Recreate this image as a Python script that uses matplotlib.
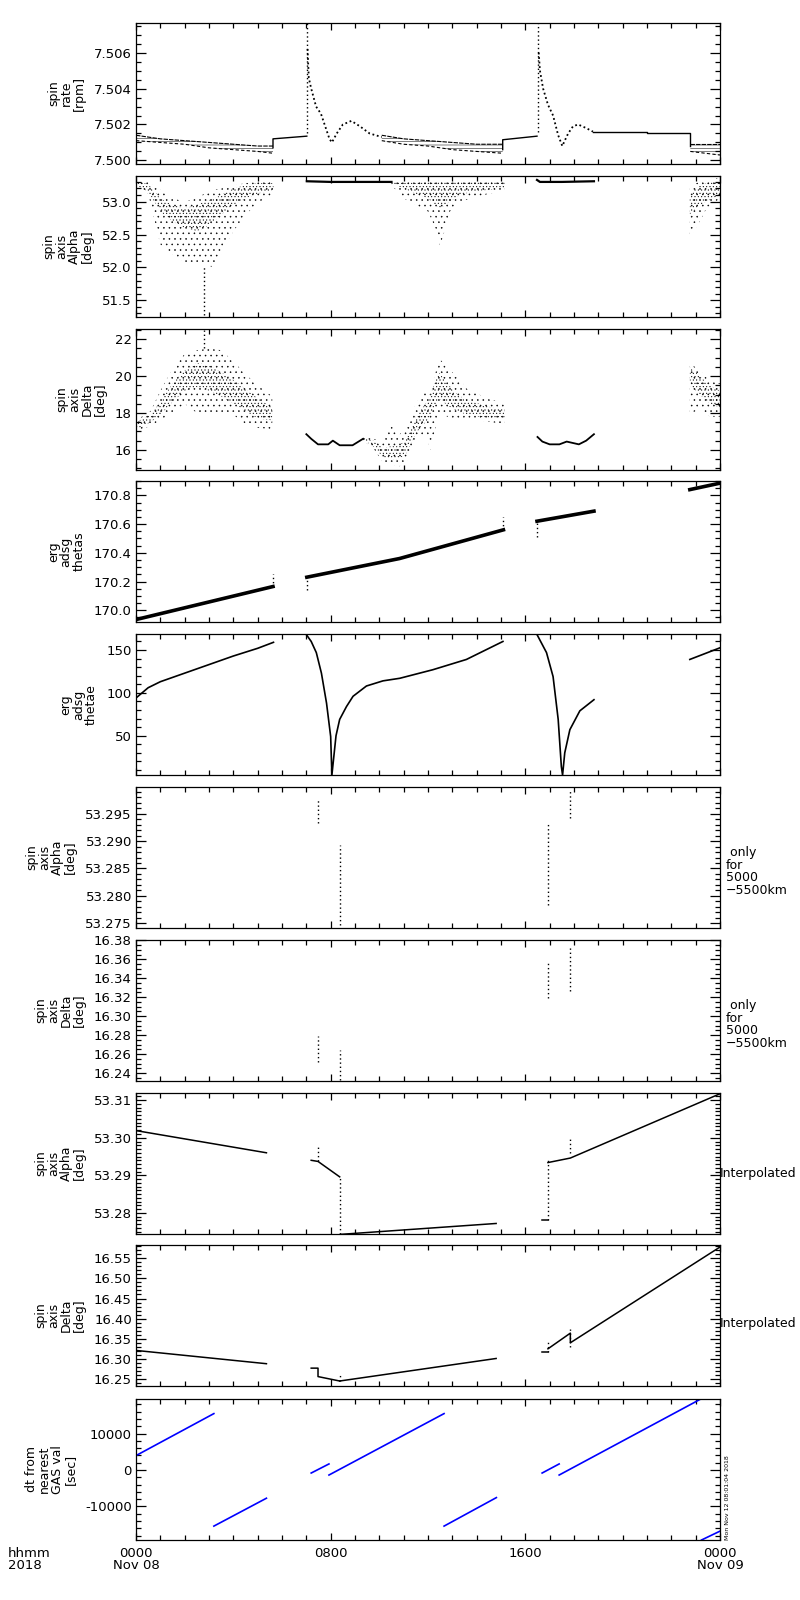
import matplotlib
matplotlib.use("Agg")
import matplotlib.pyplot as plt
from matplotlib.ticker import MultipleLocator, FixedLocator, FormatStrFormatter

plt.rcParams['font.family'] = ['DejaVu Sans']
plt.rcParams['hatch.linewidth'] = 0.35
plt.rcParams['axes.linewidth'] = 0.9

# time axis: hours since 2018-11-08 00:00

# ---- spin rate [rpm]
rate_b1_t = [0, 1, 2, 3, 4, 5, 5.63]
rate_b1_lo = [7.5011, 7.5010, 7.5009, 7.5007, 7.5006, 7.5005, 7.5004]
rate_b1_hi = [7.5014, 7.5012, 7.5011, 7.5010, 7.5009, 7.5008, 7.5008]
rate_s1_t = [5.63, 5.63, 7.02]
rate_s1_v = [7.5007, 7.5012, 7.50135]
rate_d1_t = [7.05, 7.1, 7.2, 7.4, 7.6, 7.8, 7.95, 8.05, 8.25, 8.5, 8.85, 9.2, 9.6, 10.1]
rate_d1_v = [7.5062, 7.5046, 7.5040, 7.5030, 7.5026, 7.5018, 7.5012, 7.5010,
             7.5015, 7.5020, 7.5022, 7.5019, 7.5015, 7.5013]
rate_b2_t = [10.1, 11, 12, 13, 14, 15.07]
rate_b2_lo = [7.5011, 7.5009, 7.5008, 7.5006, 7.5005, 7.5004]
rate_b2_hi = [7.5014, 7.5012, 7.5011, 7.5010, 7.5009, 7.5009]
rate_s2_t = [15.07, 15.07, 16.48]
rate_s2_v = [7.5006, 7.50115, 7.50135]
rate_d2_t = [16.55, 16.6, 16.73, 16.93, 17.14, 17.35, 17.52, 17.62, 17.76,
             17.96, 18.17, 18.5, 18.78]
rate_d2_v = [7.5060, 7.5050, 7.5040, 7.5031, 7.5025, 7.5014, 7.5008, 7.5011,
             7.5015, 7.5019, 7.5020, 7.5018, 7.5016]
rate_f_t = [18.78, 21.0, 21.0, 22.78, 22.78]
rate_f_v = [7.5016, 7.5016, 7.50155, 7.50155, 7.5008]
rate_b3_t = [22.78, 24]
rate_b3_lo = [7.5005, 7.5003]
rate_b3_hi = [7.5009, 7.5009]
rate_spike_t = [7.02, 16.5]
rate_spike_lo = [7.5015, 7.5016]
rate_spike_hi = [7.5077, 7.5077]

# ---- spin axis Alpha [deg]
alp_c1_t = [0, 0.5, 1.0, 1.5, 2.0, 2.5, 2.8, 3.2, 3.5, 4.0, 4.5, 5.0, 5.65]
alp_c1_lo = [53.24, 53.12, 52.35, 52.20, 52.08, 52.05, 52.05, 52.0, 52.2, 52.55, 52.8, 52.98, 53.12]
alp_c1_hi = [53.32, 53.30, 53.18, 53.05, 53.0, 53.05, 53.12, 53.18, 53.2, 53.25, 53.28, 53.30, 53.30]
alp_c1_ilo = [53.25, 53.15, 52.85, 52.7, 52.6, 52.55, 52.6, 52.7, 52.8, 52.95, 53.05, 53.12, 53.18]
alp_c1_ihi = [53.30, 53.27, 53.05, 52.95, 52.9, 52.95, 53.0, 53.05, 53.1, 53.2, 53.25, 53.28, 53.28]
alp_l1_t = [7.02, 8, 9, 10, 10.5]
alp_l1_v = [53.31, 53.30, 53.30, 53.30, 53.30]
alp_c2_t = [10.5, 11.0, 11.5, 12.0, 12.3, 12.5, 12.9, 13.3, 13.8, 14.5, 15.15]
alp_c2_lo = [53.25, 53.05, 52.95, 52.85, 52.6, 52.32, 52.85, 53.0, 53.05, 53.12, 53.15]
alp_c2_hi = [53.31, 53.32, 53.32, 53.33, 53.33, 53.33, 53.33, 53.33, 53.34, 53.34, 53.34]
alp_c2_ilo = [53.28, 53.2, 53.12, 53.05, 52.95, 52.9, 53.0, 53.1, 53.15, 53.18, 53.2]
alp_c2_ihi = [53.30, 53.29, 53.29, 53.30, 53.30, 53.30, 53.30, 53.30, 53.31, 53.31, 53.31]
alp_l2_t = [16.48, 16.6, 17.5, 18.82]
alp_l2_v = [53.33, 53.30, 53.30, 53.31]
alp_c3_t = [22.76, 23.0, 23.2, 23.45, 23.7, 24.0]
alp_c3_lo = [52.45, 52.6, 52.72, 52.9, 52.98, 53.04]
alp_c3_hi = [53.2, 53.28, 53.3, 53.32, 53.35, 53.36]
alp_c3_ilo = [52.8, 52.9, 52.95, 53.0, 53.05, 53.1]
alp_c3_ihi = [53.1, 53.2, 53.25, 53.28, 53.3, 53.32]

# ---- spin axis Delta [deg]
dec_c1_t = [0, 0.6, 1.0, 1.5, 2.0, 2.5, 3.0, 3.5, 4.0, 4.5, 5.0, 5.6]
dec_c1_lo = [17.0, 17.3, 17.6, 18.0, 18.5, 18.0, 18.0, 17.9, 17.9, 17.4, 17.2, 17.1]
dec_c1_hi = [17.6, 18.1, 19.2, 20.4, 21.2, 21.4, 21.5, 21.4, 20.8, 20.1, 19.5, 18.9]
dec_c1_ilo = [17.1, 17.5, 17.9, 18.6, 19.2, 19.4, 19.2, 18.9, 18.5, 18.1, 17.7, 17.6]
dec_c1_ihi = [17.5, 17.9, 18.6, 19.6, 20.3, 20.7, 20.6, 20.2, 19.8, 19.3, 18.8, 18.3]
dec_l1_t = [7.0, 7.2, 7.48, 7.9, 8.09, 8.37, 8.9, 9.33]
dec_l1_v = [16.85, 16.6, 16.3, 16.3, 16.5, 16.25, 16.25, 16.6]
dec_c2_t = [9.33, 9.75, 10.15, 10.5, 10.8, 11.1, 11.5, 11.9, 12.1, 12.45, 12.8, 13.2, 13.6, 14.1, 14.6, 15.15]
dec_c2_lo = [16.5, 16.1, 15.3, 15.2, 15.1, 15.3, 16.6, 16.9, 16.0, 18.0, 17.8, 17.6, 17.6, 17.6, 17.5, 17.4]
dec_c2_hi = [16.7, 16.6, 16.5, 17.3, 16.8, 17.2, 18.5, 19.3, 19.0, 21.0, 20.4, 20.0, 19.3, 19.0, 18.7, 18.6]
dec_c2_ilo = [16.55, 16.2, 15.6, 15.5, 15.5, 15.8, 16.9, 17.5, 17.8, 18.8, 18.4, 18.1, 17.9, 17.8, 17.7, 17.7]
dec_c2_ihi = [16.65, 16.5, 16.1, 16.2, 16.2, 16.6, 17.8, 18.5, 19.0, 20.2, 19.6, 19.0, 18.7, 18.5, 18.3, 18.2]
dec_l2_t = [16.5, 16.7, 17.0, 17.4, 17.7, 18.2, 18.5, 18.82]
dec_l2_v = [16.7, 16.45, 16.3, 16.3, 16.45, 16.3, 16.5, 16.85]
dec_c3_t = [22.76, 23.17, 23.58, 24.0]
dec_c3_lo = [17.95, 18.2, 17.8, 17.8]
dec_c3_hi = [20.7, 20.3, 19.75, 19.6]
dec_c3_ilo = [19.5, 19.0, 18.5, 18.3]
dec_c3_ihi = [20.5, 20.0, 19.5, 19.2]

# ---- erg adsg thetas
ths_segs = [([0, 5.63], [169.935, 170.165]),
            ([7.02, 10.83, 15.1], [170.23, 170.36, 170.56]),
            ([16.48, 18.82], [170.62, 170.69]),
            ([22.76, 24], [170.84, 170.885])]
ths_dot_t = [5.65, 7.02, 15.1, 16.48]
ths_dot_lo = [170.165, 170.14, 170.56, 170.51]
ths_dot_hi = [170.25, 170.23, 170.65, 170.62]

# ---- erg adsg thetae
the_segs = [([0, 0.5, 1.0, 2, 3, 4, 5, 5.65], [94, 106, 113, 123, 133, 143, 152, 159]),
            ([7.0, 7.2, 7.41, 7.62, 7.83, 8.0, 8.05, 8.22, 8.37, 8.65, 8.92, 9.47,
              10.15, 10.84, 12.2, 13.58, 15.08],
             [168, 160, 147, 123, 88, 49, 4, 50, 69, 84, 96, 108, 114, 117, 127, 139, 160]),
            ([16.48, 16.87, 17.14, 17.35, 17.48, 17.53, 17.62, 17.83, 18.24, 18.82],
             [168, 147, 119, 69, 14, 4, 30, 57, 79, 92]),
            ([22.76, 24], [139, 152.6])]

# ---- spin axis Alpha, only for 5000-5500 km
alp5_t = [7.48, 8.37, 16.93, 17.85]
alp5_lo = [53.2933, 53.2747, 53.2784, 53.2942]
alp5_hi = [53.2979, 53.2893, 53.2933, 53.2991]

# ---- spin axis Delta, only for 5000-5500 km
dec5_t = [7.48, 8.37, 16.93, 17.85]
dec5_lo = [16.252, 16.233, 16.319, 16.327]
dec5_hi = [16.279, 16.264, 16.356, 16.373]

# ---- spin axis Alpha, interpolated
alpi_segs = [([0, 5.36], [53.3019, 53.2960]),
             ([7.2, 7.48, 8.37], [53.2940, 53.2937, 53.2896]),
             ([8.4, 14.8], [53.2743, 53.2772]),
             ([16.7, 16.93], [53.2782, 53.2782]),
             ([16.93, 17.85, 24], [53.2934, 53.2946, 53.3117])]
alpi_dot_t = [7.48, 8.37, 16.93, 17.85]
alpi_dot_lo = [53.2937, 53.2744, 53.2782, 53.2959]
alpi_dot_hi = [53.2980, 53.2896, 53.2941, 53.2999]

# ---- spin axis Delta, interpolated
deci_segs = [([0, 5.36], [16.321, 16.288]),
             ([7.2, 7.48, 7.48, 8.37], [16.277, 16.277, 16.256, 16.245]),
             ([8.37, 14.8], [16.245, 16.301]),
             ([16.7, 16.93], [16.318, 16.318]),
             ([16.93, 17.85, 17.85, 24], [16.325, 16.364, 16.34, 16.578])]
deci_dot_t = [8.37, 16.93, 17.85]
deci_dot_lo = [16.245, 16.318, 16.33]
deci_dot_hi = [16.265, 16.345, 16.375]

# ---- dt from nearest GAS val [sec]
dt_segs = [([0, 3.2], [3950, 15470]),
           ([3.2, 5.36], [-15390, -7740]),
           ([7.2, 7.93], [-830, 1660]),
           ([7.93, 12.66], [-1380, 15470]),
           ([12.66, 14.81], [-15390, -7570]),
           ([16.69, 17.39], [-830, 1660]),
           ([17.39, 23.21], [-1380, 19475]),
           ([23.24, 24], [-19200, -16770])]


def cloud(ax, t, lo, hi, ilo, ihi):
    ax.fill_between(t, lo, hi, facecolor='none', edgecolor='black', hatch='...', linewidth=0)
    ax.fill_between(t, ilo, ihi, facecolor='none', edgecolor='black', hatch='.....', linewidth=0)


def band(ax, t, lo, hi):
    ax.fill_between(t, lo, hi, facecolor='none', edgecolor='black', hatch='-----', linewidth=0)
    ax.plot(t, hi, color='black', lw=0.8, ls=(0, (4, 1)))
    ax.plot(t, lo, color='black', lw=0.8, ls=(0, (3, 2)))


def dots(ax, t, lo, hi):
    ax.vlines(t, lo, hi, colors='black', linestyles=(0, (1, 2)), linewidth=1.0)


def style(ax, ylim, major, minor, fmt, label):
    ax.set_xlim(0, 24)
    ax.set_ylim(*ylim)
    ax.xaxis.set_major_locator(FixedLocator([0, 8, 16, 24]))
    ax.xaxis.set_minor_locator(MultipleLocator(1))
    ax.yaxis.set_major_locator(MultipleLocator(major))
    ax.yaxis.set_minor_locator(MultipleLocator(minor))
    ax.yaxis.set_major_formatter(FormatStrFormatter(fmt))
    ax.tick_params(which='both', direction='in', top=True, right=True,
                   labelsize=9.5, pad=3, width=0.9, labelbottom=False)
    ax.tick_params(axis='y', which='major', length=7)
    ax.tick_params(axis='y', which='minor', length=3.6)
    ax.tick_params(axis='x', which='major', length=5)
    ax.tick_params(axis='x', which='minor', length=3.5)
    ax.set_ylabel(label, fontsize=9, linespacing=0.98, labelpad=6)


fig = plt.figure(figsize=(8, 16), dpi=100)
tops = [23, 176, 329, 481, 634, 787, 940, 1093, 1245, 1399]
axs = [fig.add_axes([136 / 800, 1 - (tp + 141) / 1600, 584 / 800, 141 / 1600]) for tp in tops]

# 1 spin rate
ax = axs[0]
band(ax, rate_b1_t, rate_b1_lo, rate_b1_hi)
band(ax, rate_b2_t, rate_b2_lo, rate_b2_hi)
band(ax, rate_b3_t, rate_b3_lo, rate_b3_hi)
ax.plot(rate_s1_t, rate_s1_v, color='black', lw=1.0)
ax.plot(rate_s2_t, rate_s2_v, color='black', lw=1.0)
ax.plot(rate_f_t, rate_f_v, color='black', lw=1.0)
ax.plot(rate_d1_t, rate_d1_v, color='black', lw=1.3, ls=(0, (1, 1.5)))
ax.plot(rate_d2_t, rate_d2_v, color='black', lw=1.3, ls=(0, (1, 1.5)))
dots(ax, rate_spike_t, rate_spike_lo, rate_spike_hi)
style(ax, (7.4998, 7.50765), 0.002, 0.0005, '%.3f', 'spin\nrate\n[rpm]')

# 2 spin axis alpha
ax = axs[1]
cloud(ax, alp_c1_t, alp_c1_lo, alp_c1_hi, alp_c1_ilo, alp_c1_ihi)
cloud(ax, alp_c2_t, alp_c2_lo, alp_c2_hi, alp_c2_ilo, alp_c2_ihi)
cloud(ax, alp_c3_t, alp_c3_lo, alp_c3_hi, alp_c3_ilo, alp_c3_ihi)
ax.plot(alp_l1_t, alp_l1_v, color='black', lw=1.6)
ax.plot(alp_l2_t, alp_l2_v, color='black', lw=1.6)
dots(ax, [2.78], [51.28], [52.0])
style(ax, (51.246, 53.39), 0.5, 0.1, '%.1f', 'spin\naxis\nAlpha\n[deg]')

# 3 spin axis delta
ax = axs[2]
cloud(ax, dec_c1_t, dec_c1_lo, dec_c1_hi, dec_c1_ilo, dec_c1_ihi)
cloud(ax, dec_c2_t, dec_c2_lo, dec_c2_hi, dec_c2_ilo, dec_c2_ihi)
cloud(ax, dec_c3_t, dec_c3_lo, dec_c3_hi, dec_c3_ilo, dec_c3_ihi)
ax.plot(dec_l1_t, dec_l1_v, color='black', lw=1.3)
ax.plot(dec_l2_t, dec_l2_v, color='black', lw=1.3)
dots(ax, [2.79], [21.5], [22.5])
style(ax, (14.91, 22.55), 2, 0.5, '%d', 'spin\naxis\nDelta\n[deg]')

# 4 thetas
ax = axs[3]
for t, v in ths_segs:
    ax.plot(t, v, color='black', lw=2.6)
dots(ax, ths_dot_t, ths_dot_lo, ths_dot_hi)
style(ax, (169.918, 170.90), 0.2, 0.05, '%.1f', 'erg\nadsg\nthetas')

# 5 thetae
ax = axs[4]
for t, v in the_segs:
    ax.plot(t, v, color='black', lw=1.2)
style(ax, (4.1, 168.7), 50, 10, '%d', 'erg\nadsg\nthetae')

# 6 alpha 5000-5500 km
ax = axs[5]
dots(ax, alp5_t, alp5_lo, alp5_hi)
style(ax, (53.2741, 53.2999), 0.005, 0.001, '%.3f', 'spin\naxis\nAlpha\n[deg]')
ax.text(1.01, 0.40, ' only\nfor\n5000\n\u22125500km', transform=ax.transAxes,
        ha='left', va='center', fontsize=9, linespacing=0.95)

# 7 delta 5000-5500 km
ax = axs[6]
dots(ax, dec5_t, dec5_lo, dec5_hi)
style(ax, (16.2316, 16.3804), 0.02, 0.005, '%.2f', 'spin\naxis\nDelta\n[deg]')
ax.text(1.01, 0.40, ' only\nfor\n5000\n\u22125500km', transform=ax.transAxes,
        ha='left', va='center', fontsize=9, linespacing=0.95)

# 8 alpha interpolated
ax = axs[7]
for t, v in alpi_segs:
    ax.plot(t, v, color='black', lw=1.1)
dots(ax, alpi_dot_t, alpi_dot_lo, alpi_dot_hi)
style(ax, (53.2744, 53.3119), 0.01, 0.001, '%.2f', 'spin\naxis\nAlpha\n[deg]')
ax.text(1.0, 0.43, 'Interpolated', transform=ax.transAxes, ha='left', va='center', fontsize=9)

# 9 delta interpolated
ax = axs[8]
for t, v in deci_segs:
    ax.plot(t, v, color='black', lw=1.1)
dots(ax, deci_dot_t, deci_dot_lo, deci_dot_hi)
style(ax, (16.2326, 16.583), 0.05, 0.01, '%.2f', 'spin\naxis\nDelta\n[deg]')
ax.text(1.0, 0.44, 'Interpolated', transform=ax.transAxes, ha='left', va='center', fontsize=9)

# 10 dt from nearest GAS value
ax = axs[9]
for t, v in dt_segs:
    ax.plot(t, v, color='#0000ff', lw=1.2)
style(ax, (-19200, 19475), 10000, 2000, '%d', 'dt from\nnearest\nGAS val\n[sec]')
ax.tick_params(axis='x', labelbottom=True, pad=5)
ax.set_xticklabels(['0000\nNov 08', '0800', '1600', '0000\nNov 09'])
for lbl in ax.get_xticklabels():
    lbl.set_linespacing(0.9)
ax.text(1.008, 0.0, 'Mon Nov 12 08:01:04 2018', transform=ax.transAxes, rotation=90,
        ha='left', va='bottom', fontsize=4.5)

fig.text(8 / 800, 1 - 1547 / 1600, 'hhmm\n2018', ha='left', va='top', fontsize=9.5, linespacing=0.9)

fig.savefig('out.png', dpi=100)
